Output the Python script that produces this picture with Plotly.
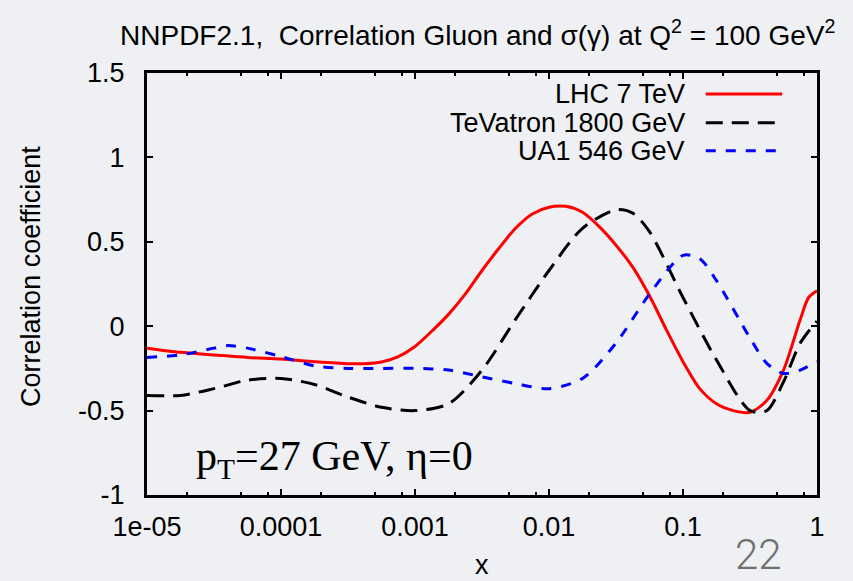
import plotly.graph_objects as go

# log10(x) grids and correlation values
lhc_logx = [-5, -4.75, -4.5, -4.25, -4, -3.75, -3.5, -3.375, -3.25, -3.125, -3, -2.875, -2.75, -2.625,
            -2.5, -2.375, -2.25, -2.125, -2, -1.875, -1.75, -1.625, -1.5, -1.375, -1.25, -1.125,
            -1, -0.875, -0.75, -0.625, -0.5, -0.375, -0.25, -0.125, -0.0625, 0]
lhc_corr = [-0.13, -0.155, -0.17, -0.185, -0.195, -0.21, -0.222, -0.222, -0.212, -0.18, -0.12, -0.03, 0.07, 0.19,
            0.33, 0.46, 0.58, 0.665, 0.705, 0.71, 0.675, 0.59, 0.48, 0.35, 0.18, -0.02,
            -0.21, -0.37, -0.46, -0.50, -0.51, -0.44, -0.26, 0.04, 0.17, 0.21]

tev_logx = [-5, -4.75, -4.5, -4.25, -4, -3.75, -3.5, -3.25, -3, -2.75, -2.5, -2.25, -2, -1.75,
            -1.5, -1.375, -1.25, -1, -0.75, -0.5, -0.375, -0.25, -0.125, 0]
tev_corr = [-0.41, -0.41, -0.37, -0.32, -0.31, -0.345, -0.42, -0.48, -0.50, -0.46, -0.26, 0.04, 0.33, 0.58,
            0.69, 0.67, 0.56, 0.17, -0.20, -0.50, -0.50, -0.33, -0.10, 0.03]

ua1_logx = [-5, -4.75, -4.5, -4.4, -4.25, -4, -3.75, -3.5, -3.25, -3, -2.75, -2.5, -2.25, -2, -1.75,
            -1.5, -1.25, -1, -0.875, -0.75, -0.5, -0.375, -0.25, -0.125, 0]
ua1_corr = [-0.185, -0.17, -0.13, -0.115, -0.13, -0.18, -0.235, -0.25, -0.25, -0.25, -0.26, -0.30, -0.34, -0.37, -0.31,
            -0.10, 0.19, 0.42, 0.40, 0.27, -0.07, -0.22, -0.28, -0.26, -0.21]

series_names = ["LHC 7 TeV", "TeVatron 1800 GeV", "UA1 546 GeV"]
series_colors = ["#ff0000", "#000000", "#0000ff"]
series_dash = ["solid", "17px,9px", "10px,10px"]

y_ticks = [-1, -0.5, 0, 0.5, 1, 1.5]
y_ticklabels = ["-1", "-0.5", "0", "0.5", "1", "1.5"]
x_ticks = [1e-5, 1e-4, 1e-3, 1e-2, 1e-1, 1]
x_ticklabels = ["1e-05", "0.0001", "0.001", "0.01", "0.1", "1"]
x_minor_mult = [2, 5, 8]

bg = "#eef0f3"
font_main = "Liberation Sans, Arial, Helvetica, sans-serif"

fig = go.Figure()
data = [(lhc_logx, lhc_corr), (tev_logx, tev_corr), (ua1_logx, ua1_corr)]
for (lx, cy), name, col, dash in zip(data, series_names, series_colors, series_dash):
    fig.add_trace(go.Scatter(
        x=[10 ** v for v in lx], y=cy, mode="lines", name=name,
        line=dict(color=col, width=3, dash=dash, shape="spline", smoothing=0.8),
        showlegend=False,
    ))

# custom legend (text right, sample line after it, like gnuplot)
leg_y = [0.950, 0.882, 0.816]
for i, (name, col, dash) in enumerate(zip(series_names, series_colors, series_dash)):
    fig.add_annotation(xref="paper", yref="paper", x=0.806, y=leg_y[i], text=name,
                       showarrow=False, xanchor="right", yanchor="middle",
                       font=dict(family=font_main, size=27, color="black"))
    fig.add_shape(type="line", xref="paper", yref="paper", x0=0.834, x1=0.948,
                  y0=leg_y[i], y1=leg_y[i], line=dict(color=col, width=3, dash=dash))

fig.add_annotation(xref="paper", yref="paper", x=0.07, y=0.085,
                   text="p<sub>T</sub>=27 GeV, η=0", showarrow=False,
                   xanchor="left", yanchor="middle",
                   font=dict(family="Liberation Serif, Times New Roman, serif", size=42, color="black"))

fig.add_annotation(xref="paper", yref="paper", x=0.913, y=-0.142, text="22",
                   showarrow=False, xanchor="center", yanchor="middle",
                   font=dict(family="Roboto, " + font_main, size=42, weight=300, color="#707070"))

# axis titles as annotations
fig.add_annotation(xref="paper", yref="paper", x=0.5, y=-0.166, text="x",
                   showarrow=False, xanchor="center", yanchor="middle",
                   font=dict(family=font_main, size=27, color="black"))
fig.add_annotation(xref="paper", yref="paper", x=-0.173, y=0.517, text="Correlation coefficient",
                   showarrow=False, xanchor="center", yanchor="middle", textangle=-90,
                   font=dict(family=font_main, size=27, color="black"))

minor_vals = [m * 10 ** e for e in range(-5, 0) for m in x_minor_mult]

fig.update_layout(
    width=853, height=581,
    margin=dict(l=147, r=36, t=73, b=86, autoexpand=False),
    paper_bgcolor=bg, plot_bgcolor=bg,
    title=dict(text="NNPDF2.1,  Correlation Gluon and σ(γ) at Q<sup>2</sup> = 100 GeV<sup>2</sup>",
               x=0.56, xanchor="center", y=0.94, yanchor="middle",
               font=dict(family=font_main, size=28, color="black")),
    font=dict(family=font_main, size=27, color="black"),
)
fig.update_xaxes(type="log", range=[-5, 0], tickvals=x_ticks, ticktext=x_ticklabels,
                 ticks="inside", ticklen=6, tickwidth=2, tickcolor="black",
                 minor=dict(tickmode="array", tickvals=minor_vals, ticks="inside", ticklen=3,
                            tickwidth=2, tickcolor="black", showgrid=False),
                 showline=True, linecolor="black", linewidth=3, mirror="allticks",
                 showgrid=False, zeroline=False, ticklabelstandoff=6, automargin=False,
                 tickfont=dict(size=27))
fig.update_yaxes(range=[-1, 1.5], tickvals=y_ticks, ticktext=y_ticklabels,
                 ticks="inside", ticklen=6, tickwidth=2, tickcolor="black",
                 showline=True, linecolor="black", linewidth=3, mirror="allticks",
                 showgrid=False, zeroline=False, ticklabelstandoff=14, automargin=False,
                 tickfont=dict(size=27))

fig.write_html("out.html")
